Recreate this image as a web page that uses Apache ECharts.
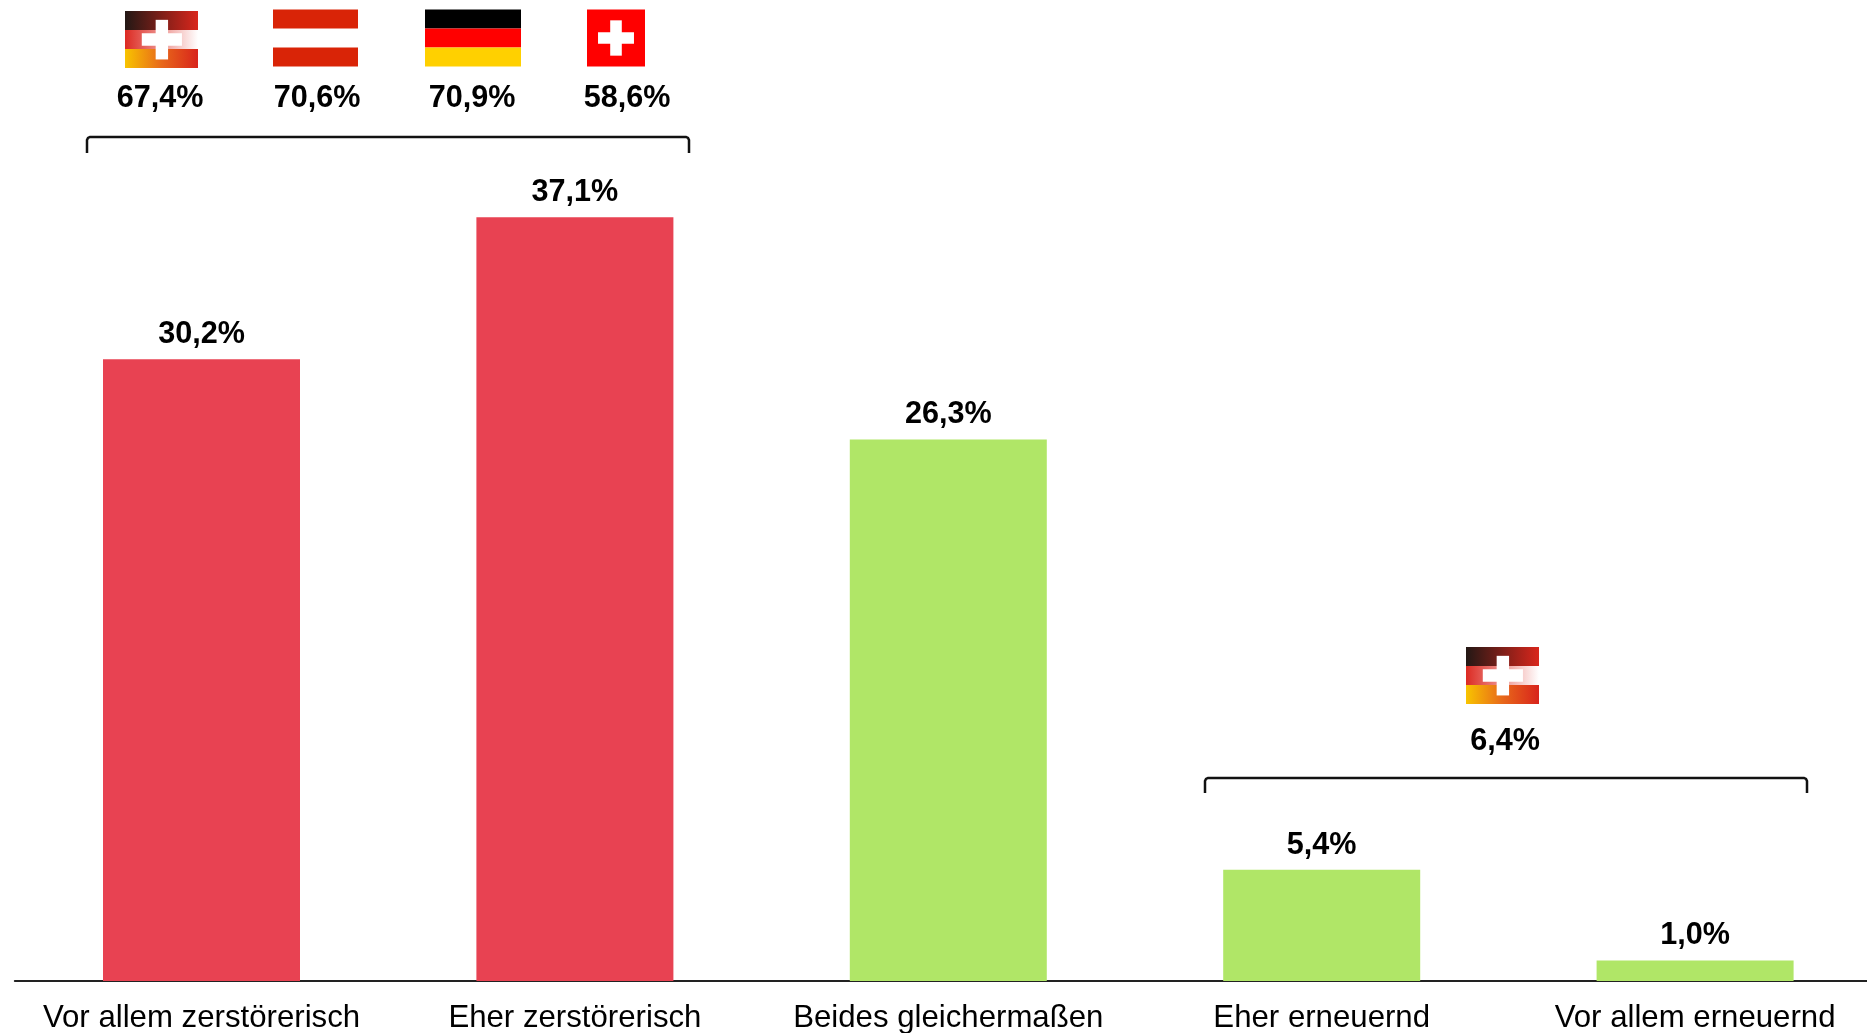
<!DOCTYPE html>
<html><head><meta charset="utf-8">
<style>html,body{margin:0;padding:0;background:#fff}#c{width:1867px;height:1033px}</style>
<script src="https://cdn.jsdelivr.net/npm/echarts@6/dist/echarts.min.js"></script>
</head><body><div id="c"></div>
<script>
const categories = ["Vor allem zerstörerisch","Eher zerstörerisch","Beides gleichermaßen","Eher erneuernd","Vor allem erneuernd"];
const values = [30.2,37.1,26.3,5.4,1.0];
const barColors = ["#e84252","#e84252","#b0e667","#b0e667","#b0e667"];
const summaryLabels = ["67,4%","70,6%","70,9%","58,6%"];
const summaryLabelRight = "6,4%";

const fmt = v => v.toFixed(1).replace(".", ",") + "%";
const hGrad = (a,b,c) => ({type:"linear",x:0,y:0,x2:1,y2:0,colorStops:c?[{offset:0,color:a},{offset:.5,color:b},{offset:1,color:c}]:[{offset:0,color:a},{offset:1,color:b}]});
const rect = (x,y,w,h,fill) => ({type:"rect",shape:{x,y,width:w,height:h},style:{fill}});
const txt = (cx,cy,text) => ({type:"text",x:cx,y:cy,style:{text,fill:"#000",font:"bold 30.6px 'Liberation Sans'",align:"center",verticalAlign:"middle"}});
const cross = (x,y,w,h,vx,vw,vy,vh,hx,hw,hy,hh) => [rect(x+w*vx,y+h*vy,w*vw,h*vh,"#fff"),rect(x+w*hx,y+h*hy,w*hw,h*hh,"#fff")];
function comboFlag(x,y,w,h){const s=h/3;return [
  rect(x,y,w,s,hGrad("#231815","#d9261c")),
  rect(x,y+s,w,s,hGrad("#dc2a22","#ffffff")),
  rect(x,y+2*s,w,s,hGrad("#f8c400","#e8681a","#d8241c")),
  ...cross(x,y,w,h,.42,.17,.155,.695,.23,.55,.39,.22)];}
function austria(x,y,w,h){const s=h/3;return [rect(x,y,w,s,"#d92407"),rect(x,y+2*s,w,s,"#d92407")];}
function germany(x,y,w,h){const s=h/3;return [rect(x,y,w,s,"#000"),rect(x,y+s,w,s,"#ff0000"),rect(x,y+2*s,w,s,"#ffd000")];}
function swiss(x,y,w,h){return [rect(x,y,w,h,"#ff0000"),...cross(x,y,w,h,.4,.2,.19,.62,.19,.62,.4,.2)];}
function bracket(x1,x2,y,d){return {type:"polyline",shape:{points:[[x1,y+d],[x1,y+3],[x1+1,y+1],[x1+3,y],[x2-3,y],[x2-1,y+1],[x2,y+3],[x2,y+d]]},style:{fill:null,stroke:"#111",lineWidth:2.5}};}

const chart = echarts.init(document.getElementById("c"),null,{renderer:"canvas"});
chart.setOption({
  animation:false,
  backgroundColor:"#fff",
  grid:{left:14.8,width:1867,top:0,bottom:52,containLabel:false,outerBoundsMode:"none"},
  xAxis:{type:"category",data:categories,axisTick:{show:false},
    axisLine:{lineStyle:{color:"#222",width:2}},
    axisLabel:{color:"#000",fontFamily:"Liberation Sans",fontSize:31.2,margin:22,interval:0}},
  yAxis:{type:"value",min:0,max:47.65,show:false,splitLine:{show:false}},
  series:[{type:"bar",barWidth:197,data:values.map((v,i)=>({value:v,itemStyle:{color:barColors[i]}})),
    label:{show:true,position:"top",distance:9,color:"#000",fontFamily:"Liberation Sans",fontWeight:"bold",fontSize:30.6,formatter:p=>fmt(p.value)}}],
  graphic:{elements:[
    ...comboFlag(125,11,73,57),...austria(273,9.5,85,57),...germany(425,9.5,96,57),...swiss(587,9.5,58,57),
    txt(160,99,summaryLabels[0]),txt(317,99,summaryLabels[1]),txt(472,99,summaryLabels[2]),txt(627,99,summaryLabels[3]),
    bracket(87,689,137,16),
    ...comboFlag(1466,647,73,57),
    txt(1505,742,summaryLabelRight),
    bracket(1205,1807,778,15)
  ]}
});
</script></body></html>
